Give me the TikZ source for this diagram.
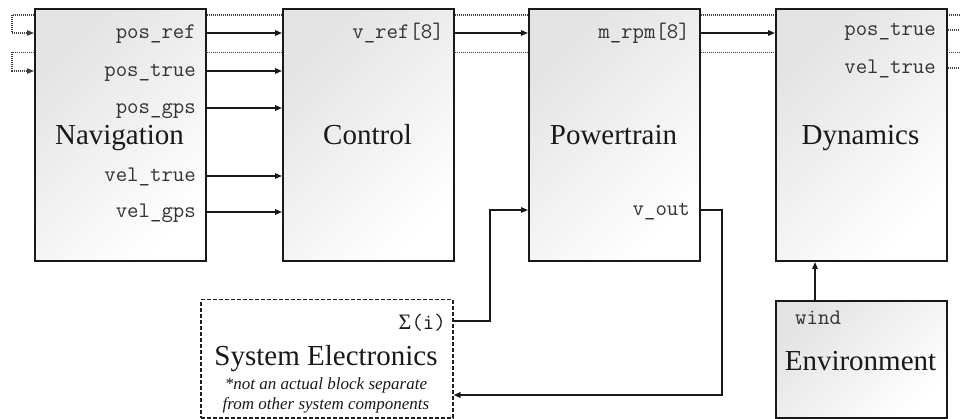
\documentclass[tikz,border=0pt]{standalone}
\usepackage{fontspec}
\setmainfont{Liberation Serif}
\usetikzlibrary{arrows.meta}
\pgfdeclarelayer{bg}
\pgfsetlayers{bg,main}
\begin{document}
\begin{tikzpicture}[x=1pt,y=-1pt,
  blk/.style={draw=black!90, line width=2pt, top color=black!11, bottom color=white,
    shading angle=45, minimum width=171pt, inner sep=0pt, anchor=north west},
  ebox/.style={draw=black!88, line width=1.5pt, dash pattern=on 4pt off 2pt,
    minimum width=252pt, minimum height=118pt, inner sep=0pt, anchor=north west},
  lbl/.style={font=\fontsize{22.2}{24}\selectfont\ttfamily, inner sep=0pt, text=black!80},
  ttl/.style={font=\fontsize{29}{33}\selectfont, inner sep=0pt, text=black!90},
  note/.style={font=\fontsize{17}{20}\selectfont\itshape, inner sep=0pt, text=black!90},
  arr/.style={line width=1.5pt, draw=black!90, -{Triangle[length=7pt,width=5.5pt]}},
  wire/.style={line width=1.5pt, draw=black!90},
  dots/.style={line width=1.2pt, draw=black!75, dash pattern=on 1pt off 1pt},
  dotarr/.style={dots, -{Triangle[length=7pt,width=5.5pt]}}
]
\useasboundingbox (0,0) rectangle (960,419);

% blocks
\node[blk, minimum height=252pt] (nav) at (34,8) {};
\node[blk, minimum height=252pt] (ctl) at (282,8) {};
\node[blk, minimum height=252pt] (pt)  at (528,8) {};
\node[blk, minimum height=252pt] (dyn) at (775,8) {};
\node[blk, minimum height=117pt] (env) at (775,300) {};
\node[ebox] (el) at (200,299) {};

% port rows
\coordinate (r1) at (0,33);
\coordinate (r2) at (0,71);
\coordinate (r3) at (0,108);
\coordinate (r4) at (0,176);
\coordinate (r5) at (0,212);
\coordinate (d1) at (0,30);
\coordinate (d2) at (0,68);
\coordinate (t1) at (0,15);
\coordinate (t2) at (0,52.5);
\coordinate (vo) at (0,210);
\coordinate (sg) at (0,321);
\coordinate (ret) at (0,395);
\coordinate (wx) at (815,0);
\coordinate (lx) at (12,0);
\coordinate (rx) at (960,0);
\coordinate (bx1) at (490,0);
\coordinate (bx2) at (722,0);

% titles
\node[ttl, anchor=base] (navt) at (119.5,145) {Navigation};
\node[ttl, anchor=base] (ctlt) at (367.5,145) {Control};
\node[ttl, anchor=base] (ptt)  at (613.5,145) {Powertrain};
\node[ttl, anchor=base] (dynt) at (860.5,145) {Dynamics};
\node[ttl, anchor=base] (envt) at (860.5,370) {Environment};
\node[ttl, anchor=base] (elt)  at (326,365.5) {System Electronics};
\node[note, anchor=base] (eln1) at (326,389) {*not an actual block separate};
\node[note, anchor=base] (eln2) at (326,409) {from other system components};

% port labels
\node[lbl, anchor=base east] (np1) at (196,38.5) {pos\_ref};
\node[lbl, anchor=base east] (np2) at (196,76.5) {pos\_true};
\node[lbl, anchor=base east] (np3) at (196,113.5) {pos\_gps};
\node[lbl, anchor=base east] (np4) at (196,181.5) {vel\_true};
\node[lbl, anchor=base east] (np5) at (196,217.5) {vel\_gps};
\node[lbl, anchor=base east] (cp1) at (444,38.5) {v\_ref[8]};
\node[lbl, anchor=base east] (pp1) at (690,38.5) {m\_rpm[8]};
\node[lbl, anchor=base east] (pp2) at (690,215.5) {v\_out};
\node[lbl, anchor=base east] (dp1) at (936,35.5) {pos\_true};
\node[lbl, anchor=base east] (dp2) at (936,73.5) {vel\_true};
\node[lbl, anchor=base west] (ew) at (795,324.5) {wind};
\node[anchor=base east, inner sep=0pt, text=black!90] (sig) at (446,329)
  {\fontsize{22}{22}\selectfont Σ\fontsize{22.2}{22}\selectfont\ttfamily(i)};

% solid connectors
\draw[arr] (nav.east |- r1) -- (ctl.west |- r1);
\draw[arr] (nav.east |- r2) -- (ctl.west |- r2);
\draw[arr] (nav.east |- r3) -- (ctl.west |- r3);
\draw[arr] (nav.east |- r4) -- (ctl.west |- r4);
\draw[arr] (nav.east |- r5) -- (ctl.west |- r5);
\draw[arr] (ctl.east |- r1) -- (pt.west |- r1);
\draw[arr] (pt.east |- r1) -- (dyn.west |- r1);
\draw[arr] (env.north -| wx) -- (dyn.south -| wx);
\draw[arr] (el.east |- sg) -- (bx1 |- sg) -- (bx1 |- vo) -- (pt.west |- vo);
\draw[arr] (pt.east |- vo) -- (bx2 |- vo) -- (bx2 |- ret) -- (el.east |- ret);

% dotted feedback lines (behind the blocks)
\begin{pgfonlayer}{bg}
\draw[dotarr] (rx |- t1) -- (lx |- t1) -- (lx |- r1) -- (nav.west |- r1);
\draw[dotarr] (rx |- t2) -- (lx |- t2) -- (lx |- r2) -- (nav.west |- r2);
\end{pgfonlayer}
\draw[dots] (dyn.east |- d1) -- (rx |- d1);
\draw[dots] (dyn.east |- d2) -- (rx |- d2);
\end{tikzpicture}
\end{document}
